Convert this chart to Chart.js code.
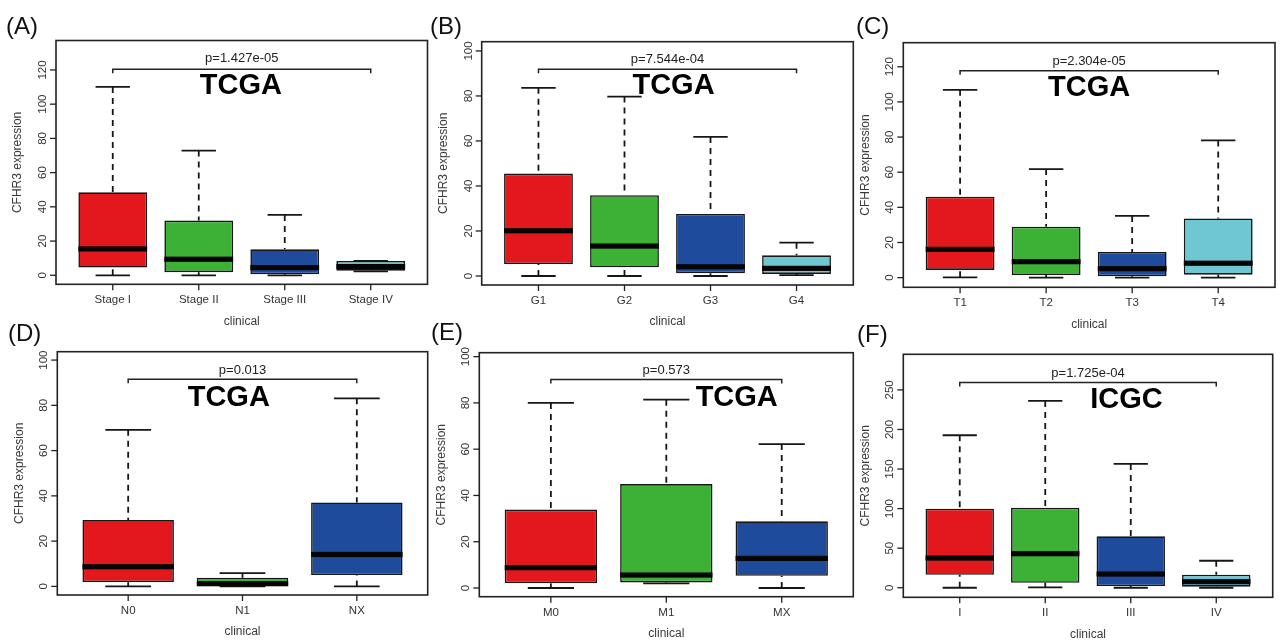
<!DOCTYPE html>
<html><head><meta charset="utf-8">
<script src="https://cdn.jsdelivr.net/npm/chart.js@4.4.1/dist/chart.umd.min.js"></script>
<style>
html,body{margin:0;padding:0;background:#fff;}
#wrap{position:relative;width:1280px;height:644px;overflow:hidden;background:#fff;}
#wrap canvas{position:absolute;left:0;top:0;}
</style></head>
<body><div id="wrap"></div>
<script>
// ---------- DATA ----------
// Panel A : tumour stage (TCGA)
const catsA = ['Stage I','Stage II','Stage III','Stage IV'];
const loA   = [0, 0, 0, 2.3];
const q1A   = [4.5, 1.8, 0.6, 2.7];
const medA  = [15.4, 9.4, 4.5, 5.1];
const q3A   = [48.5, 32.0, 15.2, 8.4];
const hiA   = [110.1, 72.9, 35.3, 8.4];
const ticksA = [0, 20, 40, 60, 80, 100, 120];

// Panel B : grade (TCGA)
const catsB = ['G1','G2','G3','G4'];
const loB   = [0, 0, 0, 0.4];
const q1B   = [5.3, 3.9, 1.2, 0.9];
const medB  = [20.1, 13.3, 4.1, 3.4];
const q3B   = [45.5, 35.9, 27.6, 9.2];
const hiB   = [83.6, 79.7, 61.8, 14.8];
const ticksB = [0, 20, 40, 60, 80, 100];

// Panel C : T stage (TCGA)
const catsC = ['T1','T2','T3','T4'];
const loC   = [0.2, 0, 0, 0];
const q1C   = [4.4, 1.5, 0.8, 1.7];
const medC  = [16.1, 9.1, 5.1, 8.2];
const q3C   = [46.1, 29.0, 14.6, 33.7];
const hiC   = [106.9, 61.8, 35.1, 78.1];
const ticksC = [0, 20, 40, 60, 80, 100, 120];

// Panel D : N stage (TCGA)
const catsD = ['N0','N1','NX'];
const loD   = [0, 0, 0];
const q1D   = [1.9, 0.2, 5.0];
const medD  = [8.7, 1.2, 14.1];
const q3D   = [29.3, 3.8, 37.1];
const hiD   = [69.2, 5.9, 83.1];
const ticksD = [0, 20, 40, 60, 80, 100];

// Panel E : M stage (TCGA)
const catsE = ['M0','M1','MX'];
const loE   = [0, 2.0, 0];
const q1E   = [2.0, 2.4, 5.3];
const medE  = [8.8, 5.6, 12.8];
const q3E   = [33.9, 44.9, 28.8];
const hiE   = [80.0, 81.4, 62.2];
const ticksE = [0, 20, 40, 60, 80, 100];

// Panel F : stage (ICGC)
const catsF = ['I','II','III','IV'];
const loF   = [0, 0.4, 0, 0];
const q1F   = [16.4, 6.3, 2.1, 1.3];
const medF  = [37.5, 43.0, 17.3, 7.6];
const q3F   = [99.9, 101.2, 64.9, 16.4];
const hiF   = [192.7, 236.1, 156.4, 34.1];
const ticksF = [0, 50, 100, 150, 200, 250];

const pValues = ['p=1.427e-05','p=7.544e-04','p=2.304e-05','p=0.013','p=0.573','p=1.725e-04'];
const cohorts = ['TCGA','TCGA','TCGA','TCGA','TCGA','ICGC'];
const letters = ['(A)','(B)','(C)','(D)','(E)','(F)'];
const yTitle = 'CFHR3 expression';
const xTitle = 'clinical';

// ---------- STYLE / LAYOUT ----------
const RED = '#E3181D', GREEN = '#3DB036', BLUE = '#1F4B9D', CYAN = '#6FC7D3';
const FONT = '"Liberation Sans", Arial, Helvetica, sans-serif';

const panels = [
  {cats:catsA, lo:loA, q1:q1A, med:medA, q3:q3A, hi:hiA, ticks:ticksA, colors:[RED,GREEN,BLUE,CYAN],
   frame:{l:56, t:40.5, r:427.5, b:284.3}, ymin:-5.26, ymax:137.2,
   bracketY:120.4, pY:126.8, tagX:2.49, tagY:110.7, letterPos:[6, 27]},
  {cats:catsB, lo:loB, q1:q1B, med:medB, q3:q3B, hi:hiB, ticks:ticksB, colors:[RED,GREEN,BLUE,CYAN],
   frame:{l:481.7, t:41.7, r:853.3, b:285}, ymin:-4.0, ymax:104.1,
   bracketY:91.9, pY:96.2, tagX:2.57, tagY:84.4, letterPos:[430, 27]},
  {cats:catsC, lo:loC, q1:q1C, med:medC, q3:q3C, hi:hiC, ticks:ticksC, colors:[RED,GREEN,BLUE,CYAN],
   frame:{l:903.3, t:42.7, r:1275, b:287.3}, ymin:-5.5, ymax:133.7,
   bracketY:117.7, pY:122.8, tagX:2.50, tagY:108.2, letterPos:[856, 27]},
  {cats:catsD, lo:loD, q1:q1D, med:medD, q3:q3D, hi:hiD, ticks:ticksD, colors:[RED,GREEN,BLUE],
   frame:{l:57.3, t:351.7, r:427.7, b:595}, ymin:-3.8, ymax:103.7,
   bracketY:91.5, pY:95.6, tagX:1.88, tagY:83.3, letterPos:[8, 334]},
  {cats:catsE, lo:loE, q1:q1E, med:medE, q3:q3E, hi:hiE, ticks:ticksE, colors:[RED,GREEN,BLUE],
   frame:{l:479.3, t:352.7, r:853.3, b:596.7}, ymin:-3.76, ymax:101.7,
   bracketY:90.1, pY:94.1, tagX:2.61, tagY:82.2, letterPos:[431, 333]},
  {cats:catsF, lo:loF, q1:q1F, med:medF, q3:q3F, hi:hiF, ticks:ticksF, colors:[RED,GREEN,BLUE,CYAN],
   frame:{l:903.3, t:354.3, r:1272.7, b:597.3}, ymin:-12.1, ymax:295,
   bracketY:259.3, pY:271, tagX:2.95, tagY:237.4, letterPos:[857, 335]}
];

const W = 1280, H = 644;

function seg(ctx, x1, y1, x2, y2){ ctx.beginPath(); ctx.moveTo(x1,y1); ctx.lineTo(x2,y2); ctx.stroke(); }

const boxDeco = {
  id: 'boxDeco',
  beforeDatasetsDraw(chart, args, opts){
    const P = opts.panel, ys = chart.scales.y, ctx = chart.ctx;
    const meta = chart.getDatasetMeta(0);
    ctx.save();
    ctx.strokeStyle = '#161616';
    ctx.lineWidth = 1.8;
    meta.data.forEach((bar, i) => {
      const x = bar.x, w = bar.width;
      ctx.setLineDash([6, 5]);
      seg(ctx, x, ys.getPixelForValue(P.hi[i]), x, ys.getPixelForValue(P.q3[i]));
      seg(ctx, x, ys.getPixelForValue(P.lo[i]), x, ys.getPixelForValue(P.q1[i]));
      ctx.setLineDash([]);
      const yh = ys.getPixelForValue(P.hi[i]), yl = ys.getPixelForValue(P.lo[i]);
      seg(ctx, x - w/4, yh, x + w/4, yh);
      seg(ctx, x - w/4, yl, x + w/4, yl);
    });
    ctx.restore();
  },
  afterDatasetsDraw(chart, args, opts){
    const P = opts.panel, idx = opts.index;
    const xs = chart.scales.x, ys = chart.scales.y, ctx = chart.ctx;
    const a = chart.chartArea;
    const meta = chart.getDatasetMeta(0);
    ctx.save();
    // medians
    ctx.fillStyle = '#050505';
    meta.data.forEach((bar, i) => {
      const ym = ys.getPixelForValue(P.med[i]);
      ctx.fillRect(bar.x - bar.width/2, ym - 2.6, bar.width, 5.2);
    });
    // frame
    ctx.strokeStyle = '#222';
    ctx.lineWidth = 1.6;
    ctx.strokeRect(a.left, a.top, a.right - a.left, a.bottom - a.top);
    // y axis ticks + rotated labels
    ctx.lineWidth = 1.3;
    ctx.fillStyle = '#333';
    ctx.font = '11.5px ' + FONT;
    ctx.textAlign = 'center';
    ctx.textBaseline = 'middle';
    P.ticks.forEach(v => {
      const y = ys.getPixelForValue(v);
      seg(ctx, a.left - 6, y, a.left, y);
      ctx.save();
      ctx.translate(a.left - 13, y);
      ctx.rotate(-Math.PI/2);
      ctx.fillText(String(v), 0, 0);
      ctx.restore();
    });
    // x axis ticks + labels
    P.cats.forEach((c, i) => {
      const x = xs.getPixelForValue(i + 1);
      seg(ctx, x, a.bottom, x, a.bottom + 6);
      ctx.fillText(c, x, a.bottom + 16);
    });
    // axis titles
    ctx.font = '12px ' + FONT;
    ctx.fillStyle = '#3a3a3a';
    ctx.fillText(xTitle, (a.left + a.right)/2, a.bottom + 37);
    ctx.save();
    ctx.translate(a.left - 38, (a.top + a.bottom)/2);
    ctx.rotate(-Math.PI/2);
    ctx.fillText(yTitle, 0, 0);
    ctx.restore();
    // significance bracket
    const n = P.cats.length;
    const xb1 = xs.getPixelForValue(1), xb2 = xs.getPixelForValue(n);
    const yb = ys.getPixelForValue(P.bracketY);
    ctx.strokeStyle = '#222';
    ctx.lineWidth = 1.5;
    ctx.beginPath();
    ctx.moveTo(xb1, yb + 4); ctx.lineTo(xb1, yb); ctx.lineTo(xb2, yb); ctx.lineTo(xb2, yb + 4);
    ctx.stroke();
    ctx.fillStyle = '#222';
    ctx.font = '13px ' + FONT;
    ctx.fillText(pValues[idx], (xb1 + xb2)/2, ys.getPixelForValue(P.pY));
    // cohort tag
    ctx.fillStyle = '#000';
    ctx.font = 'bold 29px ' + FONT;
    ctx.fillText(cohorts[idx], xs.getPixelForValue(P.tagX), ys.getPixelForValue(P.tagY));
    // panel letter
    ctx.font = '24px ' + FONT;
    ctx.textAlign = 'left';
    ctx.fillStyle = '#111';
    ctx.fillText(letters[idx], P.letterPos[0], P.letterPos[1]);
    ctx.restore();
  }
};

const wrap = document.getElementById('wrap');
panels.forEach((P, idx) => {
  const cv = document.createElement('canvas');
  cv.width = W; cv.height = H;
  cv.style.width = W + 'px'; cv.style.height = H + 'px';
  wrap.appendChild(cv);
  const n = P.cats.length;
  const ext = 0.04 * n;
  new Chart(cv.getContext('2d'), {
    type: 'bar',
    data: {
      datasets: [{
        data: P.q1.map((v, i) => ({x: i + 1, y: [P.q1[i], P.q3[i]]})),
        backgroundColor: P.colors,
        borderColor: '#161616',
        borderWidth: 1.6,
        borderSkipped: false,
        barPercentage: 0.8,
        categoryPercentage: 1.0
      }]
    },
    options: {
      responsive: false,
      animation: false,
      devicePixelRatio: 1,
      events: [],
      layout: { padding: { left: P.frame.l, top: P.frame.t, right: W - P.frame.r, bottom: H - P.frame.b } },
      plugins: { legend: {display: false}, tooltip: {enabled: false},
                 boxDeco: { panel: P, index: idx } },
      scales: {
        x: { type: 'linear', display: false, offset: false,
             min: 0.5 - ext, max: n + 0.5 + ext,
             afterBuildTicks: ax => { ax.ticks = P.cats.map((c, i) => ({value: i + 1})); } },
        y: { type: 'linear', display: false, min: P.ymin, max: P.ymax }
      }
    },
    plugins: [boxDeco]
  });
});
</script>
</body></html>
